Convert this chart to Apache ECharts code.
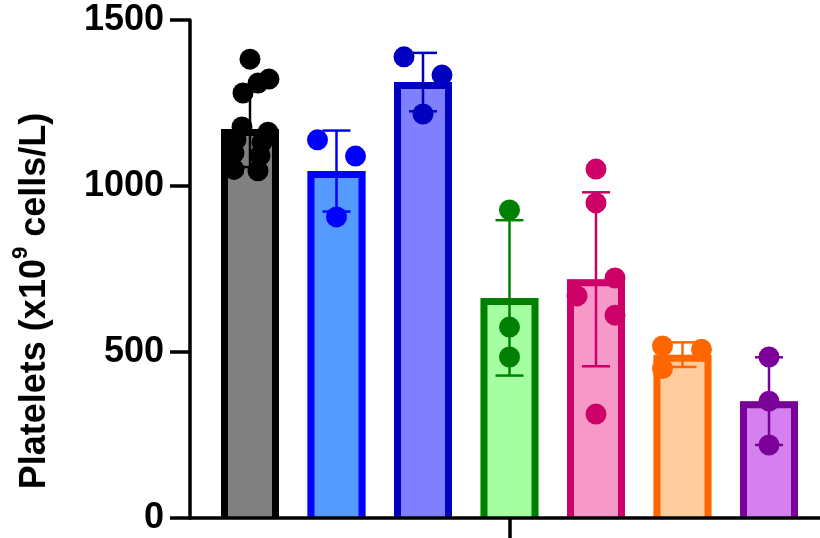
<!DOCTYPE html>
<html>
<head>
<meta charset="utf-8">
<script src="https://cdn.jsdelivr.net/npm/echarts@6/dist/echarts.min.js"></script>
<style>
  html, body { margin: 0; padding: 0; background: #ffffff; }
  #chart { width: 820px; height: 538px; }
</style>
</head>
<body>
<div id="chart"></div>
<script>
// Group order along the x axis
const groupIndex = [0, 1, 2, 3, 4, 5, 6];

// Mean and standard deviation per group (x10^9 cells/L)
const groupMeans = [1172, 1045, 1313, 663, 719, 492, 352];
const groupSD = [115, 122, 88, 234, 262, 37, 132];

// Individual platelet counts per group
const pointsG1 = [1382, 1322, 1310, 1280, 1178, 1162, 1140, 1132, 1100, 1092, 1050, 1046];
const pointsG2 = [1139, 1090, 907];
const pointsG3 = [1389, 1334, 1217];
const pointsG4 = [928, 575, 485];
const pointsG5 = [1051, 949, 723, 669, 611, 313];
const pointsG6 = [518, 508, 450];
const pointsG7 = [485, 352, 220];

// Y axis tick values
const yTicks = [0, 500, 1000, 1500];

// ---- styling ----
const FONT = '"Liberation Sans", Arial, Helvetica, sans-serif';
const barFill = ['#808080', '#559bff', '#8080ff', '#a3ffa0', '#f799c8', '#ffcc9e', '#d580ef'];
const barEdge = ['#000000', '#0000ff', '#0000c0', '#008000', '#cc0066', '#ff6600', '#7a0099'];
const BAR_W = 58;      // outer bar width in px
const BORDER = 7;      // bar outline, drawn inside the bar
const CAP_W = 28;      // error bar cap width in px
const DOT = 21;        // dot diameter
const AXIS_W = 3.5;    // axis line and tick width

// horizontal scatter of the dots inside each bar (px)
const jitter = [
  [0, 19, 8, -7, -8, 18, -14, 12, -16, 10, -16, 8],
  [-19, 19, 0],
  [-19, 19, 0],
  [0, 0, 0],
  [0, 0, 19, -19, 19, 0],
  [-20, 19, -20],
  [0, 0, 0]
];

const allPoints = [pointsG1, pointsG2, pointsG3, pointsG4, pointsG5, pointsG6, pointsG7];

const dotData = [];
allPoints.forEach(function (vals, g) {
  vals.forEach(function (v, k) {
    dotData.push({
      value: [groupIndex[g], v],
      symbolOffset: [jitter[g][k], 0],
      itemStyle: { color: barEdge[g], opacity: 1 }
    });
  });
});

const barData = groupIndex.map(function (g, k) { return [g, groupMeans[k]]; });
const errData = groupIndex.map(function (g, k) { return [g, groupMeans[k], groupSD[k]]; });

function renderBar(params, api) {
  const i = api.value(0);
  const top = api.coord([i, api.value(1)]);
  const base = api.coord([i, 0]);
  const x0 = top[0] - BAR_W / 2;
  const x1 = top[0] + BAR_W / 2;
  const h = BORDER / 2;
  return {
    type: 'group',
    children: [
      {
        type: 'rect',
        shape: { x: x0, y: top[1], width: BAR_W, height: base[1] - top[1] },
        style: { fill: barFill[i] }
      },
      {
        type: 'polyline',
        shape: { points: [[x0 + h, base[1]], [x0 + h, top[1] + h], [x1 - h, top[1] + h], [x1 - h, base[1]]] },
        style: { fill: null, stroke: barEdge[i], lineWidth: BORDER, lineJoin: 'miter' }
      }
    ]
  };
}

function renderErr(params, api) {
  const i = api.value(0);
  const m = api.value(1);
  const s = api.value(2);
  const hi = api.coord([i, m + s]);
  const lo = api.coord([i, m - s]);
  const st = { stroke: barEdge[i], lineWidth: 2.5, fill: null };
  return {
    type: 'group',
    children: [
      { type: 'line', shape: { x1: hi[0], y1: hi[1], x2: lo[0], y2: lo[1] }, style: st },
      { type: 'line', shape: { x1: hi[0] - CAP_W / 2, y1: hi[1], x2: hi[0] + CAP_W / 2, y2: hi[1] }, style: st },
      { type: 'line', shape: { x1: lo[0] - CAP_W / 2, y1: lo[1], x2: lo[0] + CAP_W / 2, y2: lo[1] }, style: st }
    ]
  };
}

const chart = echarts.init(document.getElementById('chart'), null, { renderer: 'canvas' });

chart.setOption({
  animation: false,
  backgroundColor: '#ffffff',
  grid: { left: 190, right: 0, top: 20, bottom: 20, containLabel: false },
  xAxis: {
    type: 'value',
    min: -0.6936,
    max: 6.5896,
    z: 5,
    axisLine: { show: true, onZero: false, lineStyle: { color: '#000', width: AXIS_W } },
    axisTick: { show: true, customValues: [3], length: 20, lineStyle: { color: '#000', width: AXIS_W } },
    axisLabel: { show: false },
    splitLine: { show: false }
  },
  yAxis: {
    type: 'value',
    min: yTicks[0],
    max: yTicks[yTicks.length - 1],
    interval: yTicks[1] - yTicks[0],
    z: 5,
    name: 'Platelets (x10{sup|9} cells/L)',
    nameLocation: 'middle',
    nameRotate: 90,
    nameGap: 130,
    nameTextStyle: {
      fontFamily: FONT,
      fontSize: 36,
      fontWeight: 'bold',
      color: '#000',
      padding: [0, 64, 0, 0],
      rich: {
        sup: {
          fontFamily: FONT,
          fontSize: 22,
          fontWeight: 'bold',
          color: '#000',
          verticalAlign: 'bottom',
          padding: [0, 0, 28, 0]
        }
      }
    },
    axisLine: { show: true, onZero: false, lineStyle: { color: '#000', width: AXIS_W } },
    axisTick: { show: true, length: 20, lineStyle: { color: '#000', width: AXIS_W } },
    axisLabel: {
      fontFamily: FONT,
      fontSize: 36,
      fontWeight: 'bold',
      color: '#000',
      margin: 26,
      formatter: function (v) { return String(v); }
    },
    splitLine: { show: false }
  },
  series: [
    {
      type: 'custom',
      renderItem: renderBar,
      data: barData,
      z: 2,
      silent: true
    },
    {
      type: 'custom',
      renderItem: renderErr,
      data: errData,
      z: 3,
      silent: true
    },
    {
      type: 'scatter',
      data: dotData,
      symbol: 'circle',
      symbolSize: DOT,
      z: 4,
      silent: true,
      itemStyle: { opacity: 1 }
    }
  ]
});
</script>
</body>
</html>
